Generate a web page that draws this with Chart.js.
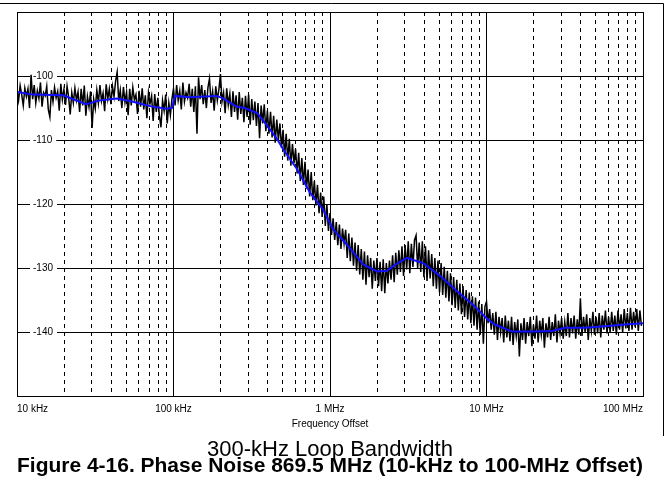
<!DOCTYPE html>
<html>
<head>
<meta charset="utf-8">
<title>Phase Noise 869.5 MHz</title>
<script src="https://cdn.jsdelivr.net/npm/chart.js@4/dist/chart.umd.min.js"></script>
<style>
  html, body { margin: 0; padding: 0; background: #fff; }
  #wrap { width: 666px; height: 480px; position: relative; }
</style>
</head>
<body>
<div id="wrap"><canvas id="phaseChart"></canvas></div>
<script>
// smoothed trace (blue), offset frequency in Hz / dBc/Hz
const smoothFreq = [1.0e4, 1.27e4, 1.97e4, 2.76e4, 3.39e4, 4.35e4, 5.27e4, 7.08e4, 8.96e4, 9.78e4,
  1.02e5, 1.27e5, 1.90e5, 2.07e5, 2.55e5, 2.86e5, 3.42e5, 3.96e5, 4.58e5, 5.01e5, 6.15e5, 7.45e5, 9.02e5,
  1.045e6, 1.28e6, 1.63e6, 2.0e6, 2.31e6, 2.68e6, 3.10e6, 3.93e6, 5.05e6, 6.48e6, 8.20e6,
  1.02e7, 1.13e7, 1.46e7, 2.04e7, 2.62e7, 3.18e7, 4.26e7, 5.47e7, 7.67e7, 1.0e8];
const smoothDbc = [-102.5, -102.9, -103.0, -104.4, -103.8, -103.5, -103.9, -104.7, -105.1, -105.0,
  -103.1, -103.3, -103.1, -103.5, -104.8, -105.0, -105.8, -107.7, -109.8, -111.4, -114.5, -118.2, -120.8,
  -123.9, -126.3, -129.4, -130.5, -130.4, -129.3, -128.4, -129.2, -131.2, -133.6, -135.7,
  -138.0, -138.8, -139.9, -139.9, -139.8, -139.3, -139.3, -139.1, -138.8, -138.6];

// raw measured trace (black), 100 log-spaced points per decade
const rawDecades = [1e4, 1e5, 1e6, 1e7];
const rawPerDecade = 100;
const raw10k = [
  -102.2, -103.8, -101.5, -102.9, -104.6, -101.9, -103.2, -102.0, -105.0, -99.8,
  -103.6, -101.4, -104.2, -102.3, -103.5, -101.0, -104.8, -102.6, -103.1, -101.6,
  -105.2, -106.4, -102.2, -104.0, -101.8, -103.4, -102.4, -105.4, -101.2, -103.7,
  -102.1, -104.5, -101.6, -103.3, -106.0, -102.6, -104.2, -101.9, -103.8, -102.5,
  -105.6, -102.0, -104.6, -101.5, -106.2, -103.2, -104.8, -102.4, -108.1, -103.6,
  -105.1, -102.2, -104.2, -101.4, -103.9, -102.7, -105.5, -101.3, -103.6, -102.0,
  -104.4, -101.6, -103.2, -100.8, -99.4, -103.9, -102.2, -105.0, -101.7, -104.1,
  -102.5, -106.1, -102.0, -104.6, -101.8, -103.7, -102.9, -105.9, -102.3, -104.8,
  -101.9, -105.2, -103.0, -106.6, -102.6, -104.3, -103.1, -107.0, -102.8, -105.6,
  -103.4, -106.2, -108.0, -103.8, -105.4, -102.9, -107.4, -104.2, -106.1, -103.6];
const raw100k = [
  -102.0, -104.6, -101.4, -103.8, -102.3, -105.2, -101.0, -104.0, -102.6, -103.4,
  -101.2, -104.8, -102.0, -105.6, -101.6, -109.0, -100.2, -103.6, -101.4, -104.4,
  -102.2, -105.0, -101.8, -100.4, -104.2, -102.4, -105.4, -101.6, -103.8, -102.1,
  -99.7, -104.0, -102.6, -105.8, -101.9, -104.5, -102.8, -106.4, -102.4, -105.6,
  -103.0, -106.8, -102.5, -105.9, -103.4, -107.2, -103.1, -106.4, -102.9, -107.6,
  -103.6, -106.9, -104.0, -107.8, -104.2, -109.7, -104.6, -107.4, -104.4, -108.6,
  -105.4, -109.0, -105.6, -109.6, -106.2, -110.4, -106.8, -110.0, -107.4, -111.2,
  -108.4, -112.6, -109.0, -113.2, -109.8, -114.0, -110.6, -113.6, -111.4, -115.2,
  -112.0, -116.4, -112.8, -117.0, -113.4, -117.6, -114.6, -118.8, -115.0, -119.4,
  -116.4, -120.2, -117.0, -121.4, -118.2, -122.0, -118.8, -123.4, -120.0, -124.2];
const raw1M = [
  -121.4, -124.8, -122.2, -125.6, -122.8, -126.4, -123.2, -127.0, -123.8, -126.2,
  -124.0, -128.4, -124.6, -128.9, -125.2, -129.6, -126.0, -130.4, -126.4, -131.0,
  -127.0, -131.8, -127.4, -132.6, -128.0, -131.4, -128.4, -133.2, -128.8, -132.0,
  -128.4, -132.8, -129.0, -133.6, -128.6, -133.9, -129.2, -132.4, -128.8, -131.8,
  -128.0, -132.2, -127.6, -131.0, -127.2, -130.6, -126.6, -131.2, -126.4, -130.2,
  -125.8, -130.8, -126.2, -129.8, -125.6, -124.9, -130.0, -126.0, -130.6, -125.8,
  -131.4, -126.6, -132.0, -127.2, -131.6, -127.8, -132.8, -128.4, -133.2, -128.8,
  -133.8, -129.2, -134.2, -129.8, -134.6, -130.4, -135.2, -130.8, -135.8, -131.4,
  -136.2, -131.8, -136.6, -132.4, -137.2, -132.8, -137.6, -133.4, -138.0, -133.8,
  -138.6, -134.4, -139.0, -134.6, -139.6, -135.2, -140.4, -135.6, -141.8, -136.0];
const raw10M = [
  -135.2, -138.6, -136.4, -139.6, -137.0, -140.4, -136.8, -141.2, -137.6, -140.0,
  -137.8, -141.6, -137.4, -140.8, -138.2, -141.4, -137.6, -142.0, -138.4, -140.6,
  -138.0, -143.8, -138.6, -141.2, -137.8, -141.8, -138.4, -140.6, -137.6, -142.2,
  -138.8, -141.0, -137.4, -141.6, -138.2, -140.4, -137.8, -142.4, -138.6, -140.8,
  -137.6, -141.2, -138.4, -140.6, -137.2, -141.6, -138.2, -140.2, -137.8, -141.0,
  -138.4, -140.6, -137.0, -140.8, -137.8, -140.2, -137.4, -141.0, -138.0, -140.4,
  -134.7, -140.6, -137.6, -140.0, -137.2, -141.2, -137.8, -139.8, -136.8, -140.4,
  -137.6, -140.2, -137.0, -140.8, -137.4, -139.6, -136.6, -140.2, -137.6, -140.0,
  -136.8, -139.8, -137.4, -140.4, -136.6, -139.6, -137.2, -140.0, -136.4, -139.4,
  -137.0, -139.8, -136.2, -139.6, -136.8, -139.2, -136.4, -139.8, -136.6, -139.0];
const rawValues = [raw10k, raw100k, raw1M, raw10M];

// axis ticks
const xDecades = [1e4, 1e5, 1e6, 1e7, 1e8];
const xDecadeLabels = ['10 kHz', '100 kHz', '1 MHz', '10 MHz', '100 MHz'];
const xMinorSteps = [2, 3, 4, 5, 6, 7, 8, 9];
const yTickValues = [-140, -130, -120, -110, -100];

const FONT = "'Liberation Sans', Arial, Helvetica, sans-serif";

const smoothPoints = smoothFreq.map(function (f, i) { return { x: f, y: smoothDbc[i] }; });
const rawPoints = [];
rawDecades.forEach(function (dec, d) {
    rawValues[d].forEach(function (v, i) {
        rawPoints.push({ x: dec * Math.pow(10, i / rawPerDecade), y: v });
    });
});

const xTickValues = [];
xDecades.forEach(function (dec, d) {
    xTickValues.push(dec);
    if (d < xDecades.length - 1) {
        xMinorSteps.forEach(function (m) { xTickValues.push(dec * m); });
    }
});

function decadeIndex(v) {
    return xDecades.findIndex(function (d) { return Math.abs(v - d) / d < 1e-6; });
}

// plot frame (top + right) and the outer figure box lines
const framePlugin = {
    id: 'frame',
    afterDraw: function (chart) {
        const ctx = chart.ctx;
        const a = chart.chartArea;
        ctx.save();
        ctx.strokeStyle = '#000';
        ctx.lineWidth = 1;
        const l = Math.round(a.left) + 0.5, r = Math.round(a.right) + 0.5;
        const t = Math.round(a.top) + 0.5, b = Math.round(a.bottom) + 0.5;
        ctx.strokeRect(l, t, r - l, b - t);
        ctx.beginPath();
        ctx.moveTo(0, 3.5);
        ctx.lineTo(663.5, 3.5);
        ctx.lineTo(663.5, 436);
        ctx.stroke();
        ctx.restore();
    }
};

new Chart(document.getElementById('phaseChart'), {
    type: 'line',
    data: {
        datasets: [
            {
                label: 'Smoothed',
                data: smoothPoints,
                borderColor: '#1010ff',
                borderWidth: 2,
                pointRadius: 0,
                tension: 0
            },
            {
                label: 'Measured',
                data: rawPoints,
                borderColor: '#000',
                borderWidth: 1.5,
                pointRadius: 0,
                tension: 0
            }
        ]
    },
    options: {
        responsive: true,
        maintainAspectRatio: false,
        animation: false,
        devicePixelRatio: 1,
        layout: { padding: { left: 17, right: 23, top: 12, bottom: 0 } },
        plugins: {
            legend: { display: false },
            tooltip: { enabled: false },
            subtitle: {
                display: true,
                position: 'bottom',
                text: '300-kHz Loop Bandwidth',
                color: '#000',
                font: { family: FONT, size: 22, weight: 'normal', lineHeight: 0.77 },
                padding: 0
            },
            title: {
                display: true,
                position: 'bottom',
                text: 'Figure 4-16. Phase Noise 869.5 MHz (10-kHz to 100-MHz Offset)',
                color: '#000',
                font: { family: FONT, size: 21, weight: 'bold', lineHeight: 0.8 },
                padding: { top: 0, bottom: 5 }
            }
        },
        scales: {
            x: {
                type: 'logarithmic',
                min: 1e4,
                max: 1e8,
                afterBuildTicks: function (scale) {
                    scale.ticks = xTickValues.map(function (v) { return { value: v }; });
                },
                afterFit: function (scale) {
                    scale.paddingLeft = 0; scale.paddingRight = 0;
                    scale.height = 45;
                },
                grid: { color: '#000', lineWidth: 1, drawTicks: false, tickLength: 0 },
                border: {
                    display: true, color: '#000', width: 1,
                    dash: function (ctx) {
                        return ctx.tick && decadeIndex(ctx.tick.value) < 0 ? [4, 4] : [];
                    }
                },
                ticks: {
                    autoSkip: false,
                    maxRotation: 0,
                    align: 'inner',
                    padding: 7,
                    color: '#000',
                    font: { family: FONT, size: 10 },
                    callback: function (value) {
                        const i = decadeIndex(value);
                        return i >= 0 ? xDecadeLabels[i] : '';
                    }
                },
                title: {
                    display: true,
                    text: 'Frequency Offset',
                    color: '#000',
                    font: { family: FONT, size: 10 },
                    padding: { top: 3, bottom: 11 }
                }
            },
            y: {
                min: -150,
                max: -90,
                afterFit: function (scale) {
                    scale.paddingTop = 0; scale.paddingBottom = 0;
                    scale.width = 0;
                },
                grid: { color: '#000', lineWidth: 1, drawTicks: false, tickLength: 0 },
                border: { display: true, color: '#000', width: 1 },
                ticks: {
                    stepSize: 10,
                    mirror: true,
                    padding: 16,
                    color: '#000',
                    font: { family: FONT, size: 10 },
                    showLabelBackdrop: true,
                    backdropColor: '#fff',
                    backdropPadding: { left: 3, right: 4, top: 1, bottom: 1 },
                    callback: function (value) {
                        return yTickValues.indexOf(value) >= 0 ? String(value) : null;
                    }
                }
            }
        }
    },
    plugins: [framePlugin]
});
</script>
</body>
</html>
